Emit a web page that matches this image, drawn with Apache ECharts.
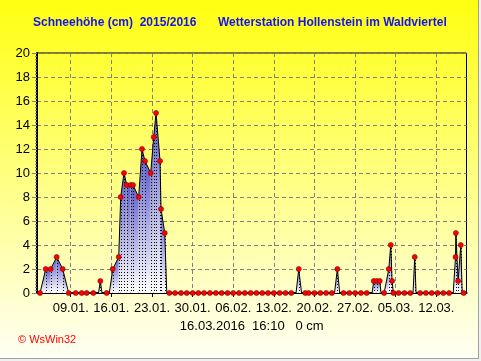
<!DOCTYPE html>
<html>
<head>
<meta charset="utf-8">
<script src="https://cdn.jsdelivr.net/npm/echarts@6/dist/echarts.min.js"></script>
<style>
html,body{margin:0;padding:0;background:#fff;}
#c{width:481px;height:361px;}
</style>
</head>
<body>
<div id="c"></div>
<script>
// time axis unit: days since 01.01.2016 00:00
const titleLeft = 'Schneehöhe (cm)  2015/2016';
const titleRight = 'Wetterstation Hollenstein im Waldviertel';
const footer = '16.03.2016  16:10   0 cm';
const credit = '© WsWin32';
const tickLabels = ['09.01.', '16.01.', '23.01.', '30.01.', '06.02.', '13.02.', '20.02.', '27.02.', '05.03.', '12.03.'];
const yTicks = [0, 2, 4, 6, 8, 10, 12, 14, 16, 18, 20];
// snow depth outline: time (days), depth (cm), mark (1 = reading shown as dot)
const t = [2.71, 3.69, 4.55, 5.58, 6.62, 7.65, 8.86, 9.89, 10.75, 11.89, 12.79, 13.10, 13.39, 14.20, 14.65, 15.24, 16.27, 16.61, 17.18, 17.65,
  18.30, 18.73, 19.71, 20.28, 20.80, 21.78, 22.30, 22.70, 23.39, 23.56, 24.20, 24.55, 24.99, 25.97, 27.00, 27.99, 29.02, 29.99, 30.97, 31.99,
  33.01, 34.00, 35.02, 35.99, 36.99, 38.00, 39.01, 40.00, 41.00, 42.00, 43.00, 44.00, 45.00, 46.00, 46.82, 47.29, 47.77, 48.40, 49.00, 50.00,
  51.00, 52.00, 53.00, 53.45, 53.94, 54.35, 55.00, 56.00, 57.00, 58.00, 59.00, 59.92, 60.21, 60.73, 61.24, 61.47, 62.00, 62.80, 63.14, 63.37,
  63.60, 64.50, 65.50, 66.50, 66.98, 67.27, 67.50, 68.20, 69.20, 70.20, 71.20, 72.20, 73.20, 73.90, 74.30, 74.36, 74.74, 75.21, 75.45, 75.70];
const v = [0, 2, 2, 3, 2, 0, 0, 0, 0, 0, 0, 1, 0, 0, 0, 2, 3, 8, 10, 9,
  9, 9, 8, 12, 11, 10, 13, 15, 11, 7, 5, 0, 0, 0, 0, 0, 0, 0, 0, 0,
  0, 0, 0, 0, 0, 0, 0, 0, 0, 0, 0, 0, 0, 0, 0, 2, 0, 0, 0, 0,
  0, 0, 0, 0, 2, 0, 0, 0, 0, 0, 0, 0, 1, 1, 1, 0, 0, 2, 4, 1,
  0, 0, 0, 0, 0, 3, 0, 0, 0, 0, 0, 0, 0, 0, 3, 5, 1, 4, 0, 0];
const mark = [1, 1, 1, 1, 1, 1, 1, 1, 1, 1, 0, 1, 0, 1, 0, 1, 1, 1, 1, 1,
  1, 1, 1, 1, 1, 1, 1, 1, 1, 1, 1, 0, 1, 1, 1, 1, 1, 1, 1, 1,
  1, 1, 1, 1, 1, 1, 1, 1, 1, 1, 1, 1, 1, 1, 0, 1, 0, 1, 1, 1,
  1, 1, 1, 0, 1, 0, 1, 1, 1, 1, 1, 0, 1, 1, 1, 0, 1, 1, 1, 1,
  1, 1, 1, 1, 0, 1, 0, 1, 1, 1, 1, 1, 1, 0, 1, 1, 1, 1, 0, 1];
const xMin = 2.19, xMax = 76.19;

function dayOfYear(lbl) {
  const d = parseInt(lbl.slice(0, 2), 10), m = parseInt(lbl.slice(3, 5), 10);
  const monthStart = [0, 31, 60];
  return monthStart[m - 1] + d - 1;
}
const tickDays = tickLabels.map(dayOfYear);
const labelOf = {};
tickDays.forEach((d, i) => { labelOf[d] = tickLabels[i]; });

const linePts = t.map((x, i) => [x, v[i]]);
const dotPts = t.map((x, i) => [x, v[i]]).filter((p, i) => mark[i] === 1);
const segs = [];
for (let i = 0; i < t.length - 1; i++) segs.push([t[i], v[i], t[i + 1], v[i + 1]]);

const chart = echarts.init(document.getElementById('c'), null, { renderer: 'canvas' });
const font = 'Arial, "Liberation Sans", sans-serif';
chart.setOption({
  animation: false,
  backgroundColor: new echarts.graphic.LinearGradient(0, 0, 0, 1, [
    { offset: 0, color: '#ffff10' }, { offset: 1, color: '#fffff6' }
  ]),
  grid: { left: 37, right: 14.5, top: 53, bottom: 68, show: true, borderColor: '#000', borderWidth: 1, backgroundColor: 'transparent' },
  xAxis: {
    type: 'value', min: xMin, max: xMax,
    name: footer, nameLocation: 'middle', nameGap: 24,
    nameTextStyle: { color: '#000', fontSize: 13, fontFamily: font },
    axisLine: { show: true, lineStyle: { color: '#000', width: 2 } },
    axisTick: { show: true, customValues: tickDays, length: 4, lineStyle: { color: '#000' } },
    axisLabel: { customValues: tickDays, formatter: (val) => labelOf[Math.round(val)] || '', color: '#000', fontSize: 13, fontFamily: font, margin: 9 },
    splitLine: { show: true, lineStyle: { color: '#808080', type: [4, 3], width: 1 } }
  },
  yAxis: {
    type: 'value', min: yTicks[0], max: yTicks[yTicks.length - 1], interval: yTicks[1] - yTicks[0],
    axisLine: { show: true, lineStyle: { color: '#000', width: 2 } },
    axisTick: { show: true, length: 5, lineStyle: { color: '#808080' } },
    minorTick: { show: true, splitNumber: 8, length: 2, lineStyle: { color: '#808080' } },
    axisLabel: { color: '#000', fontSize: 13, fontFamily: font, margin: 7 },
    splitLine: { show: true, lineStyle: { color: '#808080', type: [4, 3], width: 1 } }
  },
  graphic: [
    { type: 'text', left: 33, top: 17, style: { text: titleLeft, fill: '#1414f0', font: 'bold 12px ' + font } },
    { type: 'text', left: 218, top: 17, style: { text: titleRight, fill: '#1414f0', font: 'bold 12px ' + font } },
    { type: 'text', left: 18, top: 334, style: { text: credit, fill: '#ff0000', font: '11px ' + font } },
    { type: 'line', shape: { x1: 478.5, y1: 0, x2: 478.5, y2: 358.5 }, style: { stroke: '#a0a0a0', lineWidth: 1 } },
    { type: 'line', shape: { x1: 0, y1: 358.5, x2: 479, y2: 358.5 }, style: { stroke: '#a0a0a0', lineWidth: 1 } },
    { type: 'rect', shape: { x: 479, y: 0, width: 2, height: 361 }, style: { fill: '#f0f0f0' } },
    { type: 'rect', shape: { x: 0, y: 359, width: 481, height: 2 }, style: { fill: '#f0f0f0' } }
  ],
  series: [
    {
      type: 'custom', data: segs, encode: { x: [0, 2], y: [1, 3] }, z: 1, clip: true,
      renderItem: function (params, api) {
        const x0 = api.value(0), y0 = api.value(1), x1 = api.value(2), y1 = api.value(3);
        if (y0 === 0 && y1 === 0) return null;
        const p0 = api.coord([x0, y0]), p1 = api.coord([x1, y1]);
        const b0 = api.coord([x0, 0]), b1 = api.coord([x1, 0]);
        const children = [{
          type: 'polygon',
          shape: { points: [b0, p0, p1, b1] },
          style: {
            fill: new echarts.graphic.LinearGradient(0, 0, 0, 1, [
              { offset: 0, color: '#5c5ccc' }, { offset: 1, color: '#ffffff' }
            ]),
            stroke: null
          }
        }];
        if (y0 > 0) children.push({ type: 'line', shape: { x1: Math.round(p0[0]) + 0.5, y1: p0[1], x2: Math.round(p0[0]) + 0.5, y2: b0[1] }, style: { stroke: '#000', lineWidth: 1, lineDash: [1, 2] } });
        return { type: 'group', children: children };
      }
    },
    {
      type: 'line', data: linePts, symbol: 'none', z: 3,
      lineStyle: { color: '#000', width: 1 }
    },
    {
      type: 'scatter', data: dotPts, symbol: 'circle', symbolSize: 5, z: 4,
      itemStyle: { color: '#ff0000', borderColor: '#800000', borderWidth: 0.6, opacity: 1 }
    }
  ]
});
</script>
</body>
</html>
